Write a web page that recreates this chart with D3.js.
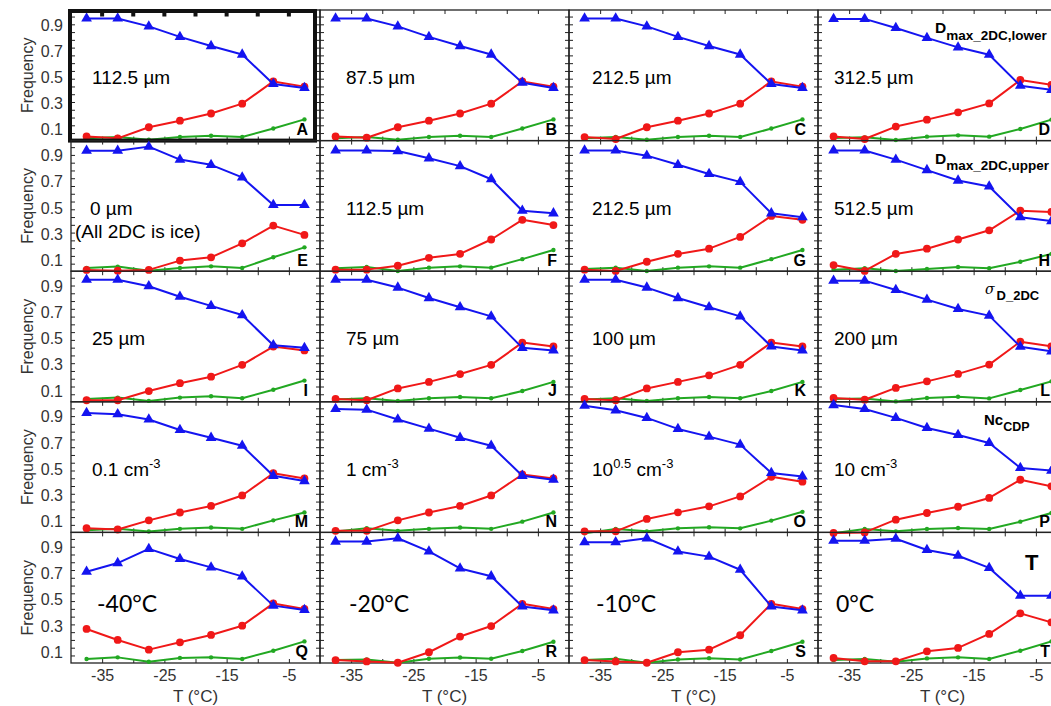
<!DOCTYPE html>
<html><head><meta charset="utf-8">
<script src="https://cdn.jsdelivr.net/npm/d3@7"></script>
<style>body{margin:0;background:#fff;} svg{display:block;font-family:"Liberation Sans",Arial,sans-serif;}</style>
</head><body><svg id="c" width="1051" height="706"></svg>
<script>
// ---------- data ----------
const tempC = [-37.5, -32.5, -27.5, -22.5, -17.5, -12.5, -7.5, -2.5];
const xDomain = [-40, 0];
const xMinorTicks = [-35, -30, -25, -20, -15, -10, -5];
const xLabelTicks = [-35, -25, -15, -5];
const yDomain = [0.018, 1.015];
const yLabelTicks = [0.1, 0.3, 0.5, 0.7, 0.9];
const panelIds = ["A","B","C","D","E","F","G","H","I","J","K","L","M","N","O","P","Q","R","S","T"];
const panelTexts = ["112.5 µm","87.5 µm","212.5 µm","312.5 µm",
  "0 µm","112.5 µm","212.5 µm","512.5 µm",
  "25 µm","75 µm","100 µm","200 µm",
  "0.1 cm^{-3}","1 cm^{-3}","10^{0.5} cm^{-3}","10 cm^{-3}",
  "-40°C","-20°C","-10°C","0°C"];
const noteE = "(All 2DC is ice)";
const rowHeaders = [["D","max_2DC,lower"],["D","max_2DC,upper"],["σ","D_2DC"],["Nc","CDP"],["T",""]];

const blueFreq = [
  [0.95,0.95,0.89,0.81,0.74,0.675,0.45,0.42],
  [0.95,0.95,0.89,0.81,0.74,0.675,0.46,0.42],
  [0.95,0.95,0.89,0.81,0.74,0.675,0.45,0.42],
  [0.947,0.947,0.878,0.802,0.73,0.674,0.437,0.405],
  [0.938,0.938,0.969,0.87,0.83,0.734,0.524,0.524],
  [0.94,0.94,0.935,0.88,0.82,0.72,0.48,0.46],
  [0.94,0.94,0.90,0.83,0.76,0.70,0.46,0.43],
  [0.94,0.94,0.87,0.79,0.71,0.665,0.43,0.40],
  [0.95,0.95,0.90,0.82,0.75,0.68,0.45,0.43],
  [0.95,0.95,0.89,0.81,0.74,0.67,0.43,0.41],
  [0.95,0.95,0.89,0.81,0.74,0.67,0.44,0.41],
  [0.943,0.943,0.872,0.798,0.727,0.676,0.439,0.403],
  [0.93,0.92,0.88,0.80,0.74,0.68,0.45,0.41],
  [0.96,0.955,0.88,0.81,0.74,0.68,0.45,0.42],
  [0.985,0.95,0.892,0.808,0.749,0.688,0.472,0.445],
  [0.99,0.96,0.892,0.815,0.762,0.701,0.51,0.49],
  [0.715,0.781,0.889,0.812,0.748,0.679,0.456,0.423],
  [0.945,0.945,0.97,0.87,0.74,0.68,0.45,0.42],
  [0.94,0.94,0.97,0.87,0.83,0.73,0.45,0.42],
  [0.952,0.952,0.967,0.881,0.837,0.744,0.532,0.532]
];
const redFreq = [
  [0.05,0.035,0.12,0.17,0.225,0.30,0.47,0.43],
  [0.05,0.04,0.12,0.17,0.225,0.30,0.47,0.43],
  [0.045,0.03,0.12,0.17,0.225,0.30,0.47,0.43],
  [0.05,0.03,0.125,0.178,0.234,0.302,0.481,0.443],
  [0.028,0.022,0.028,0.099,0.124,0.231,0.366,0.295],
  [0.03,0.03,0.06,0.12,0.15,0.26,0.41,0.37],
  [0.03,0.02,0.09,0.15,0.19,0.28,0.44,0.41],
  [0.065,0.02,0.15,0.19,0.26,0.33,0.48,0.47],
  [0.03,0.03,0.10,0.16,0.21,0.30,0.44,0.41],
  [0.04,0.03,0.12,0.17,0.23,0.30,0.47,0.44],
  [0.04,0.03,0.12,0.17,0.22,0.30,0.47,0.44],
  [0.047,0.034,0.124,0.174,0.231,0.302,0.477,0.441],
  [0.05,0.04,0.11,0.17,0.22,0.30,0.47,0.43],
  [0.03,0.03,0.11,0.17,0.22,0.30,0.46,0.43],
  [0.026,0.026,0.121,0.171,0.217,0.293,0.443,0.405],
  [0.014,0.018,0.115,0.166,0.214,0.281,0.42,0.37],
  [0.278,0.194,0.12,0.176,0.232,0.303,0.473,0.431],
  [0.04,0.03,0.02,0.10,0.22,0.30,0.47,0.43],
  [0.04,0.03,0.02,0.10,0.12,0.23,0.47,0.43],
  [0.057,0.031,0.031,0.107,0.133,0.24,0.397,0.328]
];
const greenFreq = [
  [0.035,0.045,0.025,0.045,0.055,0.045,0.11,0.18],
  [0.035,0.045,0.025,0.045,0.055,0.045,0.11,0.18],
  [0.035,0.045,0.025,0.045,0.055,0.045,0.11,0.18],
  [0.038,0.043,0.023,0.048,0.058,0.048,0.107,0.178],
  [0.043,0.053,0.022,0.043,0.055,0.043,0.124,0.2],
  [0.04,0.05,0.02,0.045,0.055,0.045,0.11,0.18],
  [0.035,0.045,0.02,0.045,0.055,0.045,0.11,0.18],
  [0.03,0.04,0.02,0.035,0.05,0.04,0.09,0.15],
  [0.04,0.05,0.025,0.05,0.06,0.045,0.11,0.18],
  [0.035,0.045,0.025,0.045,0.055,0.045,0.10,0.17],
  [0.035,0.045,0.025,0.045,0.055,0.045,0.10,0.17],
  [0.04,0.044,0.021,0.047,0.057,0.044,0.108,0.174],
  [0.035,0.045,0.025,0.045,0.055,0.045,0.11,0.17],
  [0.025,0.05,0.03,0.045,0.055,0.045,0.10,0.17],
  [0.011,0.044,0.026,0.049,0.057,0.049,0.108,0.175],
  [0.011,0.044,0.026,0.044,0.052,0.044,0.10,0.166],
  [0.049,0.061,0.028,0.057,0.061,0.049,0.112,0.183],
  [0.04,0.045,0.02,0.05,0.06,0.05,0.11,0.18],
  [0.04,0.05,0.02,0.045,0.055,0.045,0.11,0.18],
  [0.041,0.049,0.028,0.053,0.061,0.049,0.112,0.183]
];

// ---------- layout ----------
const plotLeft = 71, colW = 249, plotTop = 10, rowH = 130.6, pageW = 1051;
const textOffset = [21, 26, 23, 16];
const degOffset = [26, 29, 27, 18];
const svg = d3.select("#c");
const x = d3.scaleLinear().domain(xDomain).range([0, colW]);
const y = d3.scaleLinear().domain(yDomain).range([rowH, 0]);
const yMinorTicks = d3.range(17).map(k => 0.965 - k * 0.0593).filter(v => v > yDomain[0] + 0.005);
const axisColor = "#222";

function styleAxis(sel) {
  sel.select(".domain").remove();
  sel.selectAll(".tick line").attr("stroke", axisColor).attr("stroke-width", 1);
}

const seriesStyle = [
  {data: greenFreq, color: "#22a822", marker: "dot"},
  {data: redFreq, color: "#f01818", marker: "circle"},
  {data: blueFreq, color: "#1414f0", marker: "tri"}
];

panelIds.forEach((id, i) => {
  const c = i % 4, r = Math.floor(i / 4);
  const px = plotLeft + c * colW;
  const g = svg.append("g").attr("transform", `translate(${px},${plotTop + r * rowH})`);

  // ticks
  g.append("g").call(d3.axisBottom(x).tickValues(xMinorTicks).tickSize(4).tickFormat("")).call(styleAxis);
  g.append("g").attr("transform", `translate(0,${rowH})`).call(d3.axisTop(x).tickValues(xMinorTicks).tickSize(4).tickFormat("")).call(styleAxis);
  g.append("g").call(d3.axisRight(y).tickValues(yMinorTicks).tickSize(4).tickFormat("")).call(styleAxis);
  g.append("g").attr("transform", `translate(${colW},0)`).call(d3.axisLeft(y).tickValues(yMinorTicks).tickSize(4).tickFormat("")).call(styleAxis);
  g.append("rect").attr("x", 0).attr("y", 0).attr("width", colW).attr("height", rowH)
    .attr("fill", "none").attr("stroke", axisColor).attr("stroke-width", 1.3);

  // series
  seriesStyle.forEach(s => {
    const vals = s.data[i];
    const pts = tempC.map((t, k) => [x(t), y(vals[k])]);
    g.append("path").attr("d", d3.line()(pts)).attr("fill", "none")
      .attr("stroke", s.color).attr("stroke-width", 2).attr("stroke-linejoin", "round");
    if (s.marker === "tri") {
      g.selectAll(null).data(pts).join("path")
        .attr("d", d3.symbol(d3.symbolTriangle, 50)())
        .attr("transform", d => `translate(${d[0]},${d[1]})`).attr("fill", s.color);
    } else {
      g.selectAll(null).data(pts).join("circle")
        .attr("cx", d => d[0]).attr("cy", d => d[1])
        .attr("r", s.marker === "circle" ? 3.9 : 2.2).attr("fill", s.color);
    }
  });

  // panel letter
  g.append("text").attr("x", Math.min(colW - 12, pageW - 1 - px)).attr("y", rowH - 5.5).attr("text-anchor", "end")
    .attr("font-weight", "bold").attr("font-size", 16).attr("fill", "#000").text(id);

  // main label
  const txt = panelTexts[i];
  if (r === 4) {
    g.append("text").attr("x", degOffset[c]).attr("y", 80).attr("font-family", "Lato, 'Open Sans', sans-serif")
      .attr("font-size", 23).attr("fill", "#000").text(txt);
  } else {
    const t = g.append("text").attr("x", i === 4 ? 19 : textOffset[c]).attr("y", 74)
      .attr("font-size", 19).attr("fill", "#000");
    const parts = txt.split(/(\^\{[^}]*\})/).filter(p => p.length);
    let raised = false;
    parts.forEach(p => {
      if (p.startsWith("^{")) {
        t.append("tspan").attr("dy", -8).attr("font-size", 13).text(p.slice(2, -1));
        raised = true;
      } else {
        t.append("tspan").attr("dy", raised ? 8 : 0).text(p);
        raised = false;
      }
    });
    if (i === 4) {
      g.append("text").attr("x", 4).attr("y", 97).attr("font-size", 19).attr("fill", "#000").text(noteE);
    }
  }

  // row headers (right column)
  if (c === 3) {
    const hdr = rowHeaders[r];
    if (r === 4) {
      g.append("text").attr("x", 207).attr("y", 38).attr("font-weight", "bold").attr("font-size", 22).text(hdr[0]);
    } else if (r === 2) {
      const t = g.append("text").attr("x", 167).attr("y", 23).attr("font-size", 16);
      t.append("tspan").attr("font-style", "italic").attr("font-family", "'DejaVu Serif', serif").attr("font-size", 14).text(hdr[0]);
      t.append("tspan").attr("dx", 2).attr("dy", 6).attr("font-weight", "bold").attr("font-size", 13).text(hdr[1]);
    } else if (r === 3) {
      const t = g.append("text").attr("x", 166).attr("y", 23).attr("font-weight", "bold").attr("font-size", 15);
      t.append("tspan").text(hdr[0]);
      t.append("tspan").attr("dy", 6).attr("font-size", 12.5).text(hdr[1]);
    } else {
      const t = g.append("text").attr("x", 117).attr("y", 23).attr("font-weight", "bold").attr("font-size", 15.5);
      t.append("tspan").text(hdr[0]);
      t.append("tspan").attr("dy", 6.5).attr("font-size", 13.5).text(hdr[1]);
    }
  }

  // y labels & title on first column
  if (c === 0) {
    const ya = g.append("g").call(d3.axisLeft(y).tickValues(yLabelTicks).tickSize(0).tickPadding(8).tickFormat(d3.format(".1f")));
    ya.select(".domain").remove();
    ya.selectAll("text").attr("font-size", 16).attr("fill", "#333").attr("font-family", "'Liberation Sans', Arial, sans-serif");
    g.append("text").attr("transform", `translate(${27 - plotLeft},${rowH / 2}) rotate(-90)`)
      .attr("text-anchor", "middle").attr("dominant-baseline", "central")
      .attr("font-size", 16).attr("fill", "#333").text("Frequency");
  }

  // x labels on bottom row
  if (r === 4) {
    const xa = g.append("g").attr("transform", `translate(0,${rowH})`)
      .call(d3.axisBottom(x).tickValues(xLabelTicks).tickSize(0).tickPadding(7).tickFormat(d => String(d)));
    xa.select(".domain").remove();
    xa.selectAll("text").attr("font-size", 16).attr("fill", "#333").attr("font-family", "'Liberation Sans', Arial, sans-serif");
    g.append("text").attr("x", colW / 2).attr("y", rowH + 39).attr("text-anchor", "middle")
      .attr("font-size", 17).attr("fill", "#333").text("T (°C)");
  }

  // highlight frame on panel A
  if (i === 0) {
    g.append("rect").attr("x", -1).attr("y", 1).attr("width", colW - 4).attr("height", rowH - 1)
      .attr("fill", "none").attr("stroke", "#111").attr("stroke-width", 4);
    g.selectAll(null).data(xMinorTicks).join("rect")
      .attr("x", d => x(d) - 2).attr("y", 2).attr("width", 4).attr("height", 4.5).attr("fill", "#111");
  }
});
</script></body></html>
